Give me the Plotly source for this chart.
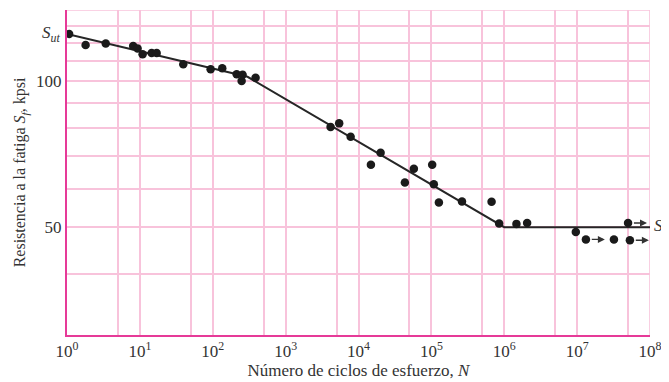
import math
import plotly.graph_objects as go

# Test data (cycles N, fatigue strength Sf in kpsi)
test_N = [1.07, 1.8, 3.4, 8.1, 9.3, 10.9, 14.5, 17, 39.4, 93.5, 135, 213, 257, 249, 387,
          4140, 5430, 7800, 14800, 20100, 43300, 57500, 102600, 108000, 126800, 263000,
          670000, 851000, 1.47e6, 2.06e6, 9.6e6, 3.2e7]
test_S = [125, 118.6, 119.4, 118, 116.7, 113.5, 114.2, 114.2, 108.2, 105.7, 106.2, 103.2, 103, 100, 101.6,
          80.4, 81.8, 76.8, 67.2, 71.2, 61.8, 66.0, 67.2, 61.3, 56.2, 56.5,
          56.4, 50.9, 50.8, 51.0, 48.9, 47.2]
# Run-outs (specimens that did not fail)
runout_N = [1.32e7, 5.0e7, 5.3e7]
runout_S = [47.2, 51.0, 47.0]
# Fitted S-N curve
curve_N = [1, 300, 1e6, 1e8]
curve_S = [125, 102, 50, 50]

S_ut = 125
S_e = 50

x_major = [10 ** k for k in range(0, 9)]
x_major_text = [f"10<sup>{k}</sup>" for k in range(0, 9)]
x_minor = [5 * 10 ** k for k in range(0, 8)]
y_ticks = [100, 50]
y_grid = list(range(30, 150, 10))

grid_col = "#f8c3db"
axis_col = "#e63a98"
ink = "#1a1a1a"
font_fam = "Liberation Serif, Times New Roman, serif"

fig = go.Figure()
fig.add_trace(go.Scatter(x=curve_N, y=curve_S, mode="lines",
                         line=dict(color="#262626", width=2), hoverinfo="skip"))
fig.add_trace(go.Scatter(x=test_N + runout_N, y=test_S + runout_S, mode="markers",
                         marker=dict(color=ink, size=8.5, line=dict(width=0))))

for n, s in zip(runout_N, runout_S):
    fig.add_annotation(x=math.log10(n) + 0.26, y=math.log10(s),
                       ax=math.log10(n) + 0.06, ay=math.log10(s),
                       xref="x", yref="y", axref="x", ayref="y",
                       text="", showarrow=True, arrowhead=2, arrowsize=1,
                       arrowwidth=1.4, arrowcolor="#333")

fig.add_annotation(x=0, y=math.log10(S_ut), xref="paper", yref="y", xanchor="right",
                   xshift=-5, text="<i>S<sub>ut</sub></i>", showarrow=False,
                   font=dict(family=font_fam, size=17, color="#333"))
fig.add_annotation(x=1, y=math.log10(S_e), xref="paper", yref="y", xanchor="left",
                   xshift=2, text="<i>S<sub>e</sub></i>", showarrow=False,
                   font=dict(family=font_fam, size=17, color="#333"))

fig.update_layout(
    width=661, height=374,
    margin=dict(l=59, r=19, t=2, b=47, autoexpand=False),
    paper_bgcolor="white", plot_bgcolor="white",
    showlegend=False,
    font=dict(family=font_fam, size=16, color="#333"),
    xaxis=dict(type="log", range=[0, 8], tickvals=x_major, ticktext=x_major_text,
               showgrid=True, gridcolor=grid_col, gridwidth=1.6,
               minor=dict(tickvals=x_minor, showgrid=True, gridcolor=grid_col, gridwidth=1.6),
               showline=True, linecolor=axis_col, linewidth=1.6, mirror=False,
               ticks="", zeroline=False, automargin=False, ticklabelstandoff=0,
               title=dict(text="Número de ciclos de esfuerzo, <i>N</i>", standoff=0,
                          font=dict(size=17)),
               tickfont=dict(size=17)),
    yaxis=dict(type="log", range=[math.log10(30), math.log10(140)],
               tickvals=y_ticks, ticktext=[str(v) for v in y_ticks],
               showgrid=False, automargin=False,
               minor=dict(tickvals=y_grid, showgrid=True, gridcolor=grid_col, gridwidth=1.6),
               showline=True, linecolor=axis_col, linewidth=2, ticks="", zeroline=False,
               title=dict(text="Resistencia a la fatiga <i>S<sub>f</sub></i>, kpsi", standoff=6,
                          font=dict(size=16)),
               tickfont=dict(size=17)),
)
fig.add_shape(type="line", xref="x", yref="paper", x0=1e8, x1=1e8, y0=0, y1=1,
              line=dict(color=grid_col, width=1.6), layer="below")
fig.add_shape(type="line", xref="paper", yref="y", x0=0, x1=1, y0=140, y1=140,
              line=dict(color=grid_col, width=1.6), layer="below")

fig.write_html("out.html")
